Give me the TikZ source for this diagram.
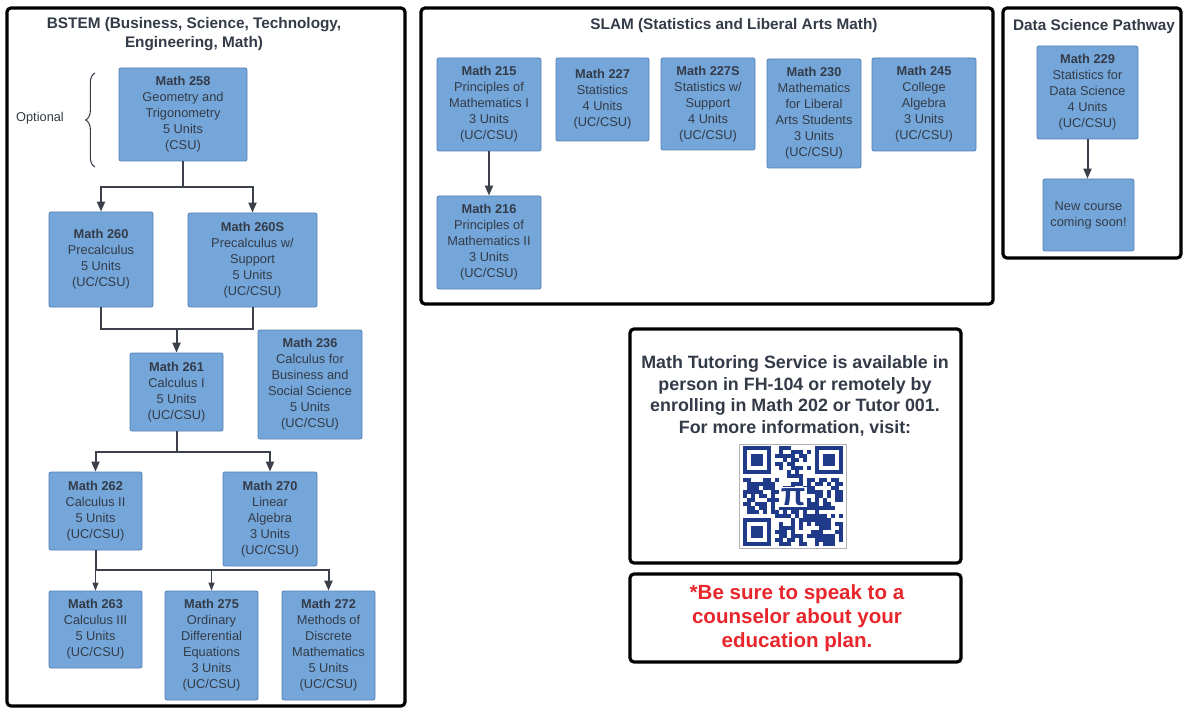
\documentclass[tikz,border=0pt]{standalone}
\usepackage{fontspec}
\setmainfont{Liberation Sans}
\usetikzlibrary{arrows.meta,decorations.pathreplacing}

\definecolor{boxblue}{RGB}{116,166,217}
\definecolor{boxedge}{RGB}{84,128,182}
\definecolor{inktext}{RGB}{52,59,72}
\definecolor{linkgray}{RGB}{60,64,74}
\definecolor{alertred}{RGB}{232,38,43}
\definecolor{qrblue}{RGB}{32,58,138}

\tikzset{
  boxsize/.style 2 args={minimum width=#1*0.75pt,minimum height=#2*0.75pt}
}
\newcommand{\crs}[2]{\textbf{Math #1}\\#2}

\begin{document}
\begin{tikzpicture}[x=0.75pt,y=-0.75pt]
        \tikzstyle{course}=[rectangle,rounded corners=1.5pt,fill=boxblue,draw=boxedge,line width=0.6pt,text=inktext,align=center,inner sep=0pt,font=\fontsize{9.6}{12}\selectfont]
        \tikzstyle{panel}=[draw=black,line width=2.4pt,rounded corners=3pt]
        \tikzstyle{title}=[text=inktext,align=center,font=\fontsize{11.5}{14}\selectfont\bfseries]
        \tikzstyle{link}=[draw=linkgray,line width=1.5pt,-{Triangle[length=7.5pt,width=6pt]}]
        \tikzstyle{thinlink}=[draw=linkgray,line width=0.8pt,-{Triangle[length=6pt,width=4.5pt]}]

        \useasboundingbox (0,0) rectangle (1184,709);
        \fill[white] (0,0) rectangle (1184,709);

        % panels
        \draw[panel] (7,8) rectangle (405,706);
        \draw[panel] (421,8) rectangle (993,304);
        \draw[panel] (1003,8) rectangle (1181,258);
        \draw[panel] (630,329) rectangle (961,563);
        \draw[panel] (630,574) rectangle (961,662);

        \node[title] (t_bstem) at (194,34) {BSTEM (Business, Science, Technology,\\Engineering, Math)};
        \node[title] (t_slam) at (734,26) {SLAM (Statistics and Liberal Arts Math)};
        \node[title] (t_ds) at (1094,27) {Data Science Pathway};

        % BSTEM
        \node[course,boxsize={128}{93}] (m258) at (183,114.5) {\crs{258}{Geometry and\\Trigonometry\\5 Units\\(CSU)}};
        \node[course,boxsize={104}{95}] (m260) at (101,259.5) {\crs{260}{Precalculus\\5 Units\\(UC/CSU)}};
        \node[course,boxsize={129}{94}] (m260S) at (252.5,260) {\textbf{Math 260S}\\Precalculus w/\\Support\\5 Units\\(UC/CSU)};
        \node[course,boxsize={93}{78}] (m261) at (176.5,392) {\crs{261}{Calculus I\\5 Units\\(UC/CSU)}};
        \node[course,boxsize={104}{109}] (m236) at (310,384.5) {\crs{236}{Calculus for\\Business and\\Social Science\\5 Units\\(UC/CSU)}};
        \node[course,boxsize={93}{78}] (m262) at (95.5,511) {\crs{262}{Calculus II\\5 Units\\(UC/CSU)}};
        \node[course,boxsize={94}{94}] (m270) at (270,519) {\crs{270}{Linear\\Algebra\\3 Units\\(UC/CSU)}};
        \node[course,boxsize={93}{77}] (m263) at (95.5,629.5) {\crs{263}{Calculus III\\5 Units\\(UC/CSU)}};
        \node[course,boxsize={93}{109}] (m275) at (211.5,645.5) {\crs{275}{Ordinary\\Differential\\Equations\\3 Units\\(UC/CSU)}};
        \node[course,boxsize={93}{109}] (m272) at (328.5,645.5) {\crs{272}{Methods of\\Discrete\\Mathematics\\5 Units\\(UC/CSU)}};

        \draw[draw=linkgray,line width=0.8pt,decorate,decoration={brace,amplitude=7pt}] (95,167) -- (95,73);
        \node[text=inktext,font=\fontsize{9.6}{12}\selectfont] (opt) at (40,118) {Optional};

        \coordinate (j258) at (183,187);
        \coordinate (j260) at (176.5,329);
        \coordinate (j261) at (176.5,452);
        \coordinate (j262) at (95.5,570);

        \draw[link] (m258.south) -- (j258) -| (m260.north);
        \draw[link] (j258) -| (m260S.north);
        \draw[draw=linkgray,line width=1.5pt] (m260.south) |- (j260) -| (m260S.south);
        \draw[link] (j260) -- (m261.north);
        \draw[link] (m261.south) -- (j261) -| (m262.north);
        \draw[link] (j261) -| (m270.north);
        \draw[link] (m262.south) -- (j262) -| (m272.north);
        \draw[thinlink] (j262) -- (m263.north);
        \draw[thinlink] (m275.north |- j262) -- (m275.north);

        % SLAM
        \node[course,boxsize={104}{93}] (m215) at (489,104.5) {\crs{215}{Principles of\\Mathematics I\\3 Units\\(UC/CSU)}};
        \node[course,boxsize={93}{83}] (m227) at (602.5,99.5) {\crs{227}{Statistics\\4 Units\\(UC/CSU)}};
        \node[course,boxsize={94}{92}] (m227S) at (708,104) {\textbf{Math 227S}\\Statistics w/\\Support\\4 Units\\(UC/CSU)};
        \node[course,boxsize={94}{109}] (m230) at (814,113.5) {\crs{230}{Mathematics\\for Liberal\\Arts Students\\3 Units\\(UC/CSU)}};
        \node[course,boxsize={104}{93}] (m245) at (924,104.5) {\crs{245}{College\\Algebra\\3 Units\\(UC/CSU)}};
        \node[course,boxsize={104}{93}] (m216) at (489,242.5) {\crs{216}{Principles of\\Mathematics II\\3 Units\\(UC/CSU)}};

        \draw[link] (m215.south) -- (m216.north);

        % Data Science
        \node[course,boxsize={101}{93}] (m229) at (1087.5,92.5) {\crs{229}{Statistics for\\Data Science\\4 Units\\(UC/CSU)}};
        \node[course,boxsize={91}{72}] (mnew) at (1088.5,215) {New course\\coming soon!};

        \draw[link] (m229.south) -- (m229.south |- mnew.north);

        % tutoring and note
        \node[text=inktext,align=center,font=\fontsize{13.4}{16.3}\selectfont\bfseries] (tutor) at (795,396) {Math Tutoring Service is available in\\person in FH-104 or remotely by\\enrolling in Math 202 or Tutor 001.\\For more information, visit:};
        \node[text=alertred,align=center,font=\fontsize{15.4}{18}\selectfont\bfseries] (note) at (797,618) {*Be sure to speak to a\\counselor about your\\education plan.};

        % qr code
        \draw[gray!60,line width=0.5pt] (739,444) rectangle (846,548);
        \pgfmathsetseed{11}
        \foreach \i in {0,...,24}{
          \foreach \j in {0,...,24}{
            \pgfmathtruncatemacro{\infind}{((\i<8)&&(\j<8))||((\i>16)&&(\j<8))||((\i<8)&&(\j>16))}
            \pgfmathtruncatemacro{\qbit}{rnd<0.55}
            \ifnum\infind=0 \ifnum\qbit=1
              \fill[qrblue] (743+4*\i,446+4*\j) rectangle ++(4,4);
            \fi\fi
          }
        }
        \foreach \fx/\fy in {743/446,815/446,743/518}{
          \fill[qrblue] (\fx,\fy) rectangle ++(28,28);
          \fill[white] (\fx+4,\fy+4) rectangle ++(20,20);
          \fill[qrblue] (\fx+8,\fy+8) rectangle ++(12,12);
        }
        \node[fill=white,inner sep=1pt,text=qrblue,font=\fontsize{24}{24}\selectfont\bfseries] (qrpi) at (793,497) {π};
\end{tikzpicture}
\end{document}
